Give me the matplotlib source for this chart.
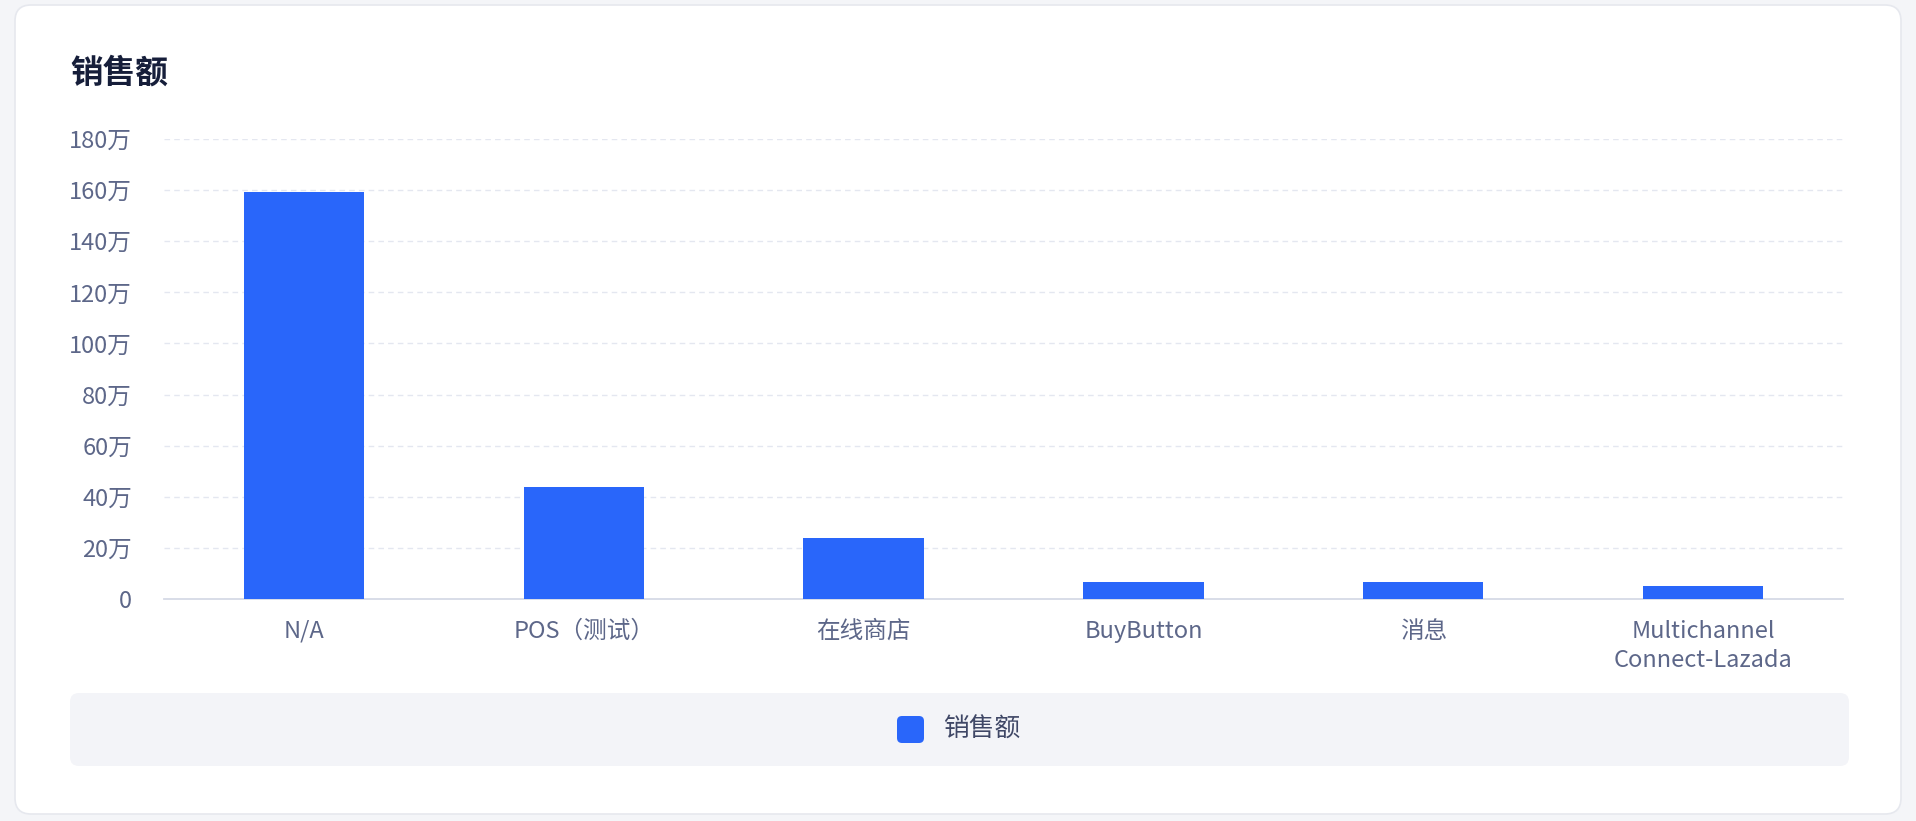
import matplotlib
matplotlib.use("Agg")
import matplotlib.pyplot as plt
from matplotlib.patches import FancyBboxPatch
from matplotlib.ticker import FuncFormatter

plt.rcParams['font.family'] = ['Noto Sans CJK SC', 'DejaVu Sans']

# ---- data (values in 万) ----
categories = ["N/A", "POS（测试）", "在线商店", "BuyButton", "消息", "Multichannel\nConnect-Lazada"]
sales_wan = [159.2, 43.7, 23.8, 6.5, 6.5, 5.2]
series_name = "销售额"
title_text = "销售额"
y_ticks = [0, 20, 40, 60, 80, 100, 120, 140, 160, 180]

BLUE = "#2966FA"
TICK_COLOR = "#5D6789"
TITLE_COLOR = "#161E3A"

W, H = 19.16, 8.21
fig = plt.figure(figsize=(W, H), dpi=100)
fig.patch.set_facecolor("#F4F5F8")

# card
card = FancyBboxPatch((0.15, 0.07), 18.86, 8.09,
                      boxstyle="round,pad=0,rounding_size=0.16",
                      transform=fig.dpi_scale_trans, facecolor="white",
                      edgecolor="#E6E8EE", linewidth=1.2, zorder=-3)
fig.patches.append(card)

# title
fig.text(0.70 / W, 7.48 / H, title_text, fontsize=23.5, fontweight="bold",
         color=TITLE_COLOR, ha="left", va="center", zorder=5)

# axes
left_px, right_px = 164, 1843
ax = fig.add_axes([left_px / 1916, 1 - 599 / 821, (right_px - left_px) / 1916, (599 - 139) / 821])
ax.set_zorder(2)
ax.set_facecolor("none")
x = list(range(len(categories)))
ax.bar(x, sales_wan, width=0.43, color=BLUE, zorder=3)
ax.set_xlim(-0.5, len(categories) - 0.5)
ax.set_ylim(0, 180)
ax.set_yticks(y_ticks)
ax.yaxis.set_major_formatter(FuncFormatter(lambda v, p: "0" if v == 0 else f"{int(v)}万"))
ax.set_xticks(x)
ax.set_xticklabels(categories, linespacing=1.35)
ax.tick_params(axis="both", length=0, labelsize=17, colors=TICK_COLOR)
ax.tick_params(axis="y", pad=23)
ax.tick_params(axis="x", pad=15)
for s in ["top", "right", "left"]:
    ax.spines[s].set_visible(False)
ax.spines["bottom"].set_color("#D6DAE6")
ax.spines["bottom"].set_linewidth(1.3)
ax.grid(axis="y", color="#E4E7F0", linestyle=(0, (4, 3)), linewidth=1.0, zorder=0)
ax.set_axisbelow(True)

# legend box
lbox = FancyBboxPatch((0.70, 0.55), 17.79, 0.73,
                      boxstyle="round,pad=0,rounding_size=0.09",
                      transform=fig.dpi_scale_trans, facecolor="#F3F4F8",
                      edgecolor="none", zorder=-2)
fig.patches.append(lbox)
marker = FancyBboxPatch((8.97, 0.78), 0.27, 0.27,
                        boxstyle="round,pad=0,rounding_size=0.05",
                        transform=fig.dpi_scale_trans, facecolor=BLUE,
                        edgecolor="none", zorder=-1)
fig.patches.append(marker)
fig.text(9.43 / W, 0.915 / H, series_name, fontsize=18.5, color="#3F4766",
         ha="left", va="center", zorder=5)

fig.savefig("out.png", dpi=100, facecolor=fig.get_facecolor())
